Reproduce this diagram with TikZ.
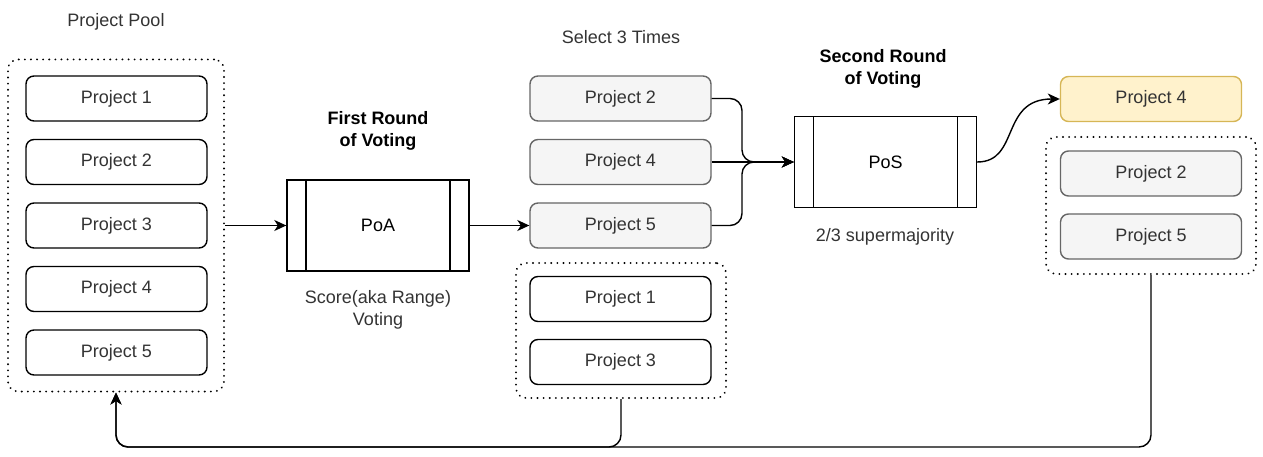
\documentclass[tikz,border=0pt]{standalone}
\usepackage{fontspec}
\setmainfont{Liberation Sans}
\usetikzlibrary{arrows.meta}
\definecolor{txtgray}{HTML}{333333}
\definecolor{boxgray}{HTML}{F5F5F5}
\definecolor{linegray}{HTML}{666666}
\definecolor{winfill}{HTML}{FFF2CC}
\definecolor{winline}{HTML}{D6B656}
\tikzset{
  every picture/.style={>={Stealth[length=12pt,width=11pt,inset=3.5pt]},line width=1.4pt},
  txt/.style={font=\fontsize{18}{22}\selectfont},
  proj/.style={txt,draw,rounded corners=8pt,minimum width=181pt,minimum height=45pt,text=txtgray},
  kept/.style={proj,fill=boxgray,draw=linegray},
  winner/.style={proj,fill=winfill,draw=winline},
  group/.style={draw,inner sep=0pt,dash pattern=on 0.1pt off 6pt,line cap=round,line width=2pt,rounded corners=10pt},
  vote/.style={txt,draw,minimum width=182pt,minimum height=91pt,
    path picture={\draw ([xshift=19pt]path picture bounding box.north west) -- ([xshift=19pt]path picture bounding box.south west);
                  \draw ([xshift=-19pt]path picture bounding box.north east) -- ([xshift=-19pt]path picture bounding box.south east);}},
  label/.style={txt,text=txtgray,align=center},
  title/.style={txt,align=center,font=\fontsize{18}{22}\selectfont\bfseries}
}
\begin{document}
\begin{tikzpicture}[x=1pt,y=-1pt]
  \useasboundingbox (0,0) rectangle (1263,457);
  % project pool
  \node[group,minimum width=216pt,minimum height=332pt] (pool) at (116,225.5) {};
  \foreach \i in {1,...,5}
    \node[proj] (pp\i) at (116.5,{35+63.5*\i}) {Project \i};
  \node[label] (poollbl) at (116,22) {Project Pool};
  % first round
  \node[vote] (poa) at (378,225.5) {PoA};
  \node[title] (poattl) at (378,131) {First Round\\of Voting};
  \node[label] (poalbl) at (378,310) {Score(aka Range)\\Voting};
  % selected
  \node[label] (sellbl) at (621,37) {Select 3 Times};
  \node[kept] (s2) at (620.5,98.5) {Project 2};
  \node[kept] (s4) at (620.5,162) {Project 4};
  \node[kept] (s5) at (620.5,225.5) {Project 5};
  \node[group,minimum width=210pt,minimum height=135pt] (rej) at (621,330.5) {};
  \node[proj] (r1) at (620.5,299) {Project 1};
  \node[proj] (r3) at (620.5,362) {Project 3};
  % second round
  \node[vote] (pos) at (885.5,162) {PoS};
  \node[title] (posttl) at (883,69) {Second Round\\of Voting};
  \node[label] (poslbl) at (885,237) {2/3 supermajority};
  % result
  \node[winner] (w4) at (1151,99) {Project 4};
  \node[group,minimum width=210pt,minimum height=137pt] (rest) at (1151,205.5) {};
  \node[kept] (t2) at (1151,173.5) {Project 2};
  \node[kept] (t5) at (1151,236.5) {Project 5};
  % connectors
  \coordinate (mg) at (742,162);
  \coordinate (fb) at (116,447);
  \draw[->] (pool.east) -- (poa.west);
  \draw[->] (poa.east) -- (s5.west);
  \draw[->,rounded corners=12pt] (s2.east) -| (mg) -- (pos.west);
  \draw[->,rounded corners=12pt] (s5.east) -| (mg) -- (pos.west);
  \draw[->] (s4.east) -- (pos.west);
  \draw[->] (pos.east) .. controls (1020,162) and (1000,99) .. (w4.west);
  \draw[->,rounded corners=12pt] (rest.south) |- (fb) -- (pool.south);
  \draw[->,rounded corners=12pt] (rej.south) |- (fb) -- (pool.south);
\end{tikzpicture}
\end{document}
